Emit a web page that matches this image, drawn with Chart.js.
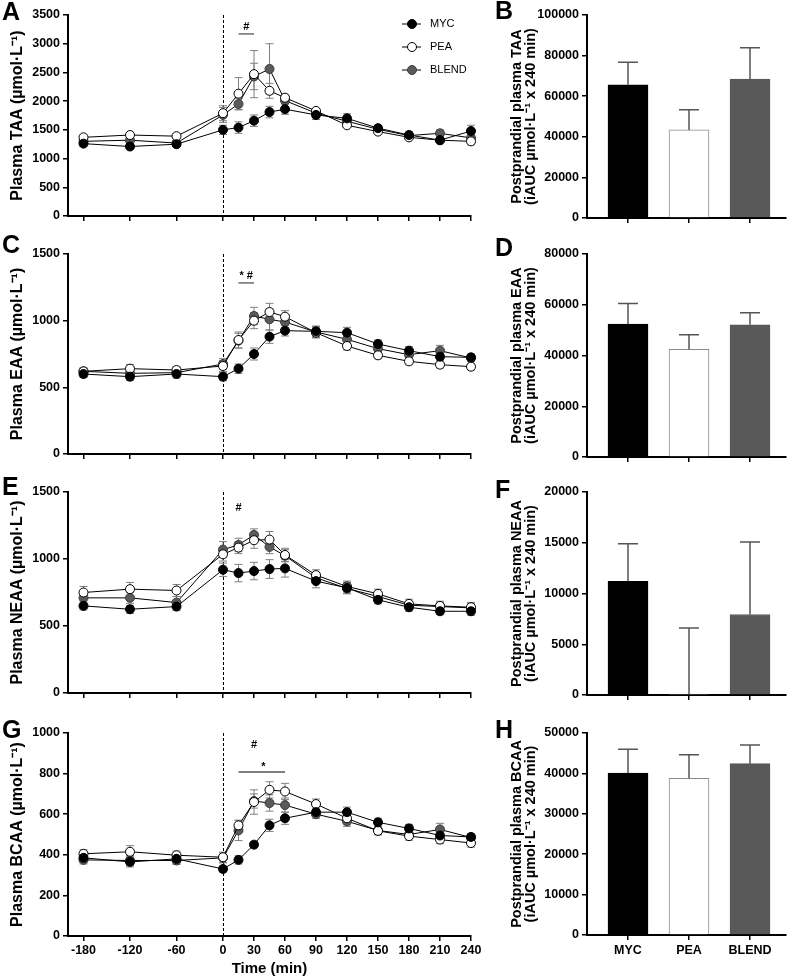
<!DOCTYPE html>
<html><head><meta charset="utf-8">
<script src="https://cdn.jsdelivr.net/npm/chart.js@4.4.1/dist/chart.umd.min.js"></script>
<style>
body{margin:0;background:#fff;width:792px;height:978px;position:relative;overflow:hidden;font-family:"Liberation Sans",Arial,sans-serif}
canvas{position:absolute}
.lab{position:absolute;font:bold 25px "Liberation Sans",Arial,sans-serif;line-height:25px;color:#000}
</style></head><body>
<canvas id="cA"></canvas><canvas id="cC"></canvas><canvas id="cE"></canvas><canvas id="cG"></canvas>
<canvas id="cB"></canvas><canvas id="cD"></canvas><canvas id="cF"></canvas><canvas id="cH"></canvas>
<div class="lab" style="left:2px;top:-1px">A</div>
<div class="lab" style="left:495px;top:-2px">B</div>
<div class="lab" style="left:2px;top:232px">C</div>
<div class="lab" style="left:495px;top:235px">D</div>
<div class="lab" style="left:2px;top:474px">E</div>
<div class="lab" style="left:495px;top:477px">F</div>
<div class="lab" style="left:2px;top:717px">G</div>
<div class="lab" style="left:495px;top:717px">H</div>
<script>
// ---------- data ----------
const timePoints = [-180,-120,-60,0,15,30,45,60,90,120,150,180,210,240];
const xTickValues = [-180,-120,-60,0,30,60,90,120,150,180,210,240];
const groups = ['MYC','PEA','BLEND'];

const taaMYC   = [1260,1210,1250,1500,1540,1660,1810,1860,1760,1700,1530,1410,1320,1480];
const taaPEA   = [1370,1410,1390,1790,2130,2470,2180,2060,1830,1580,1470,1370,1320,1300];
const taaBLEND = [1300,1320,1270,1760,1950,2430,2560,2010,1790,1650,1510,1400,1440,1360];
const taaMYCsem   = [40,40,40,80,100,100,100,90,80,80,50,50,40,100];
const taaPEAsem   = [40,40,40,130,280,410,130,60,40,40,40,40,40,60];
const taaBLENDsem = [40,40,40,130,100,230,440,60,80,60,40,60,60,60];

const eaaMYC   = [600,580,600,580,640,750,880,925,920,910,825,775,730,725];
const eaaPEA   = [620,640,630,660,855,1000,1065,1030,910,810,740,695,670,655];
const eaaBLEND = [620,605,610,675,850,1035,1010,990,915,860,790,745,775,720];
const eaaMYCsem   = [25,30,30,30,35,45,50,40,40,40,30,30,30,25];
const eaaPEAsem   = [25,30,25,40,60,60,65,45,40,30,25,25,25,25];
const eaaBLENDsem = [25,25,25,40,55,65,80,40,40,35,30,35,40,25];

const neaaMYC   = [650,625,645,920,895,910,925,930,835,785,695,640,610,610];
const neaaPEA   = [750,775,765,1035,1085,1140,1145,1030,880,795,740,665,650,640];
const neaaBLEND = [710,710,675,1070,1105,1180,1090,1025,860,780,720,655,645,635];
const neaaMYCsem   = [30,30,30,50,65,65,70,65,50,40,30,30,25,30];
const neaaPEAsem   = [45,50,45,50,45,60,60,50,40,40,35,35,35,35];
const neaaBLENDsem = [40,40,45,60,50,45,50,45,40,40,30,30,30,30];

const bcaaMYC   = [385,365,380,330,375,450,545,580,610,610,560,530,495,488];
const bcaaPEA   = [405,415,398,388,545,660,720,712,650,580,518,492,475,458];
const bcaaBLEND = [375,372,372,385,520,665,655,645,600,565,520,500,525,485];
const bcaaMYCsem   = [20,25,20,15,20,15,30,30,20,25,20,20,20,15];
const bcaaPEAsem   = [20,30,20,25,25,60,40,40,25,30,20,20,20,20];
const bcaaBLENDsem = [20,25,20,25,50,35,40,35,20,25,20,20,30,20];

const taaAUC = [65600,43400,68400];   const taaAUCsem = [11100,9900,15500];
const eaaAUC = [52400,42400,52100];   const eaaAUCsem = [8100,5800,4700];
const neaaAUC = [11200,100,7930];     const neaaAUCsem = [3700,6500,7140];
const bcaaAUC = [40100,38800,42400];  const bcaaAUCsem = [5900,5800,4600];

// ---------- helpers ----------
function toAxis(t){ return t < 0 ? t/40 : t/30; }
function fromAxis(u){ return u < 0 ? u*40 : u*30; }
const FAM = '"Liberation Sans", Arial, sans-serif';
const tickFont = {family:FAM, weight:'bold', size:12.5};
const titleFont = {family:FAM, weight:'bold', size:16};

function placeCanvas(id, box){
  const c = document.getElementById(id);
  c.width = box.w; c.height = box.h;
  c.style.left = box.left+'px'; c.style.top = box.top+'px';
  c.style.width = box.w+'px'; c.style.height = box.h+'px';
  return c;
}

const zeroLine = {id:'zeroLine', beforeDatasetsDraw(chart){
  const {ctx, chartArea, scales:{x}} = chart;
  const px = Math.round(x.getPixelForValue(0)) + 0.5;
  ctx.save(); ctx.strokeStyle='#000'; ctx.lineWidth=1; ctx.setLineDash([3,2]);
  ctx.beginPath(); ctx.moveTo(px, chartArea.top); ctx.lineTo(px, chartArea.bottom); ctx.stroke();
  ctx.restore();
}};

const lineErr = {id:'lineErr', beforeDatasetsDraw(chart){
  const {ctx, scales:{x,y}} = chart;
  ctx.save(); ctx.strokeStyle='#808080'; ctx.lineWidth=1;
  chart.data.datasets.forEach(ds=>{
    ds.data.forEach((p,i)=>{
      const s = ds.sem[i]; const px = x.getPixelForValue(p.x);
      const y1 = y.getPixelForValue(p.y - s), y2 = y.getPixelForValue(p.y + s);
      ctx.beginPath();
      ctx.moveTo(px, y1); ctx.lineTo(px, y2);
      ctx.moveTo(px-4, y1); ctx.lineTo(px+4, y1);
      ctx.moveTo(px-4, y2); ctx.lineTo(px+4, y2);
      ctx.stroke();
    });
  });
  ctx.restore();
}};

const barErr = {id:'barErr', afterDatasetsDraw(chart){
  const {ctx, scales:{x,y}} = chart;
  ctx.save(); ctx.strokeStyle='#555'; ctx.lineWidth=1.5;
  chart.data.datasets.forEach(ds=>{
    ds.data.forEach((p,i)=>{
      const px = x.getPixelForValue(p.x);
      const y1 = y.getPixelForValue(p.y), y2 = y.getPixelForValue(p.y + ds.sem[i]);
      ctx.beginPath(); ctx.moveTo(px, y1); ctx.lineTo(px, y2);
      ctx.moveTo(px-10, y2); ctx.lineTo(px+10, y2); ctx.stroke();
    });
  });
  ctx.restore();
}};

function sigPlugin(marks){ return {id:'sig', afterDatasetsDraw(chart){
  const {ctx, scales:{x,y}} = chart;
  ctx.save();
  marks.forEach(m=>{
    if (m.x1 !== undefined){
      ctx.strokeStyle='#555'; ctx.lineWidth=1.3; ctx.beginPath();
      ctx.moveTo(x.getPixelForValue(toAxis(m.x1)), y.getPixelForValue(m.y));
      ctx.lineTo(x.getPixelForValue(toAxis(m.x2)), y.getPixelForValue(m.y)); ctx.stroke();
    } else {
      ctx.fillStyle='#000'; ctx.font='bold 11px '+FAM; ctx.textAlign='center'; ctx.textBaseline='middle';
      ctx.fillText(m.text, x.getPixelForValue(toAxis(m.x)), y.getPixelForValue(m.y));
    }
  });
  ctx.restore();
}};}

const legendPlugin = {id:'legendIn', afterDraw(chart){
  const {ctx, chartArea} = chart;
  ctx.save();
  chart.data.datasets.forEach((ds,i)=>{
    const yy = chartArea.top + 9 + i*23;
    const x0 = chartArea.right - 69;
    ctx.strokeStyle='#000'; ctx.lineWidth=1;
    ctx.beginPath(); ctx.moveTo(x0, yy); ctx.lineTo(x0+19, yy); ctx.stroke();
    ctx.beginPath(); ctx.arc(x0+10, yy, 4.5, 0, Math.PI*2);
    ctx.fillStyle = ds.pointBackgroundColor; ctx.fill();
    ctx.strokeStyle = ds.pointBorderColor; ctx.stroke();
    ctx.fillStyle='#000'; ctx.font='11px '+FAM; ctx.textAlign='left'; ctx.textBaseline='middle';
    ctx.fillText(ds.label, x0+28, yy);
  });
  ctx.restore();
}};

function axisCommon(){
  return {
    offset:false,
    grid:{drawOnChartArea:false, drawTicks:true, tickLength:5, color:'#000', lineWidth:1.5, offset:false},
    border:{color:'#000', width:2}
  };
}

function makeLine(id, box, area, series, yMax, yStep, yTitle, showX, marks, withLegend){
  const c = placeCanvas(id, box);
  const mk = (label, vals, sem, fill, stroke) => ({
    label, sem, data: vals.map((v,i)=>({x:toAxis(timePoints[i]), y:v})),
    borderColor:'#000', borderWidth:1, pointBackgroundColor:fill, pointBorderColor:stroke,
    pointRadius:4.5, pointBorderWidth:1, tension:0, clip:false
  });
  const datasets = [
    mk('MYC', series[0], series[3], '#000', '#000'),
    mk('PEA', series[1], series[4], '#fff', '#000'),
    mk('BLEND', series[2], series[5], '#5a5a5a', '#3c3c3c')
  ];
  const plugins = [zeroLine, lineErr, sigPlugin(marks)];
  if (withLegend) plugins.push(legendPlugin);
  const xa = Object.assign(axisCommon(), {
    type:'linear', min:-5, max:8,
    afterBuildTicks: s => { s.ticks = xTickValues.map(t=>({value:toAxis(t)})); },
    afterFit: s => { s.height = box.top + box.h - area.bottom; s.paddingLeft=0; s.paddingRight=0; },
    ticks:{display:showX, font:tickFont, color:'#000', padding:2, maxRotation:0, autoSkip:false,
           callback: v => String(Math.round(fromAxis(v)))},
    title: showX ? {display:true, text:'Time (min)', font:{family:FAM, weight:'bold', size:15}, color:'#000', padding:{top:1,bottom:0}} : {display:false}
  });
  const ya = Object.assign(axisCommon(), {
    min:0, max:yMax,
    afterFit: s => { s.width = 68; s.paddingTop=0; s.paddingBottom=0; },
    ticks:{stepSize:yStep, font:tickFont, color:'#000', padding:3, callback: v => String(v)},
    title:{display:true, text:yTitle, font:titleFont, color:'#000', padding:{top:7.5,bottom:0}}
  });
  return new Chart(c, {
    type:'line',
    data:{datasets},
    options:{
      responsive:false, animation:false, devicePixelRatio:1,
      layout:{padding:{top:area.top-box.top, right:box.w-471, left:0, bottom:0}},
      plugins:{legend:{display:false}, tooltip:{enabled:false}},
      scales:{x:xa, y:ya}
    },
    plugins
  });
}

function makeBar(id, box, area, vals, sem, yMax, yStep, yTitle, showX){
  const c = placeCanvas(id, box);
  const xa = Object.assign(axisCommon(), {
    type:'linear', min:-0.672, max:2.59,
    afterBuildTicks: s => { s.ticks = groups.map((g,i)=>({value:i})); },
    afterFit: s => { s.height = box.top + box.h - area.bottom; s.paddingLeft=0; s.paddingRight=0; },
    ticks:{display:showX, font:tickFont, color:'#000', padding:3, maxRotation:0, autoSkip:false,
           callback: v => groups[v]}
  });
  const ya = Object.assign(axisCommon(), {
    min:0, max:yMax,
    afterFit: s => { s.width = 587 - box.left; s.paddingTop=0; s.paddingBottom=0; },
    ticks:{stepSize:yStep, font:tickFont, color:'#000', padding:3, callback: v => String(v)},
    title:{display:true, text:yTitle, font:{family:FAM, weight:'bold', size:14.5, lineHeight:1.0}, color:'#000', padding:{top:37.5,bottom:0}}
  });
  return new Chart(c, {
    type:'bar',
    data:{datasets:[{
      data: vals.map((v,i)=>({x:i, y:v})), sem,
      backgroundColor:['#000','#fff','#595959'], borderColor:['#000','#8a8a8a','#595959'],
      borderWidth:1, barThickness:40
    }]},
    options:{
      responsive:false, animation:false, devicePixelRatio:1,
      layout:{padding:{top:area.top-box.top, right:792-786, left:0, bottom:0}},
      plugins:{legend:{display:false}, tooltip:{enabled:false}},
      scales:{x:xa, y:ya}
    },
    plugins:[barErr]
  });
}

const UM = ' (µmol·L⁻¹)';
const AUCT = '(iAUC µmol·L⁻¹ x 240 min)';

makeLine('cA', {left:0, top:0, w:500, h:232}, {top:15, bottom:216},
  [taaMYC,taaPEA,taaBLEND,taaMYCsem,taaPEAsem,taaBLENDsem], 3500, 500, 'Plasma TAA'+UM, false,
  [{x1:15,x2:30,y:3170},{text:'#',x:22.5,y:3285}], true);
makeLine('cC', {left:0, top:232, w:500, h:238}, {top:254, bottom:454},
  [eaaMYC,eaaPEA,eaaBLEND,eaaMYCsem,eaaPEAsem,eaaBLENDsem], 1500, 500, 'Plasma EAA'+UM, false,
  [{x1:15,x2:30,y:1283},{text:'* #',x:22.5,y:1335}], false);
makeLine('cE', {left:0, top:470, w:500, h:240}, {top:492, bottom:693},
  [neaaMYC,neaaPEA,neaaBLEND,neaaMYCsem,neaaPEAsem,neaaBLENDsem], 1500, 500, 'Plasma NEAA'+UM, false,
  [{text:'#',x:15,y:1380}], false);
makeLine('cG', {left:0, top:710, w:500, h:268}, {top:733, bottom:936},
  [bcaaMYC,bcaaPEA,bcaaBLEND,bcaaMYCsem,bcaaPEAsem,bcaaBLENDsem], 1000, 200, 'Plasma BCAA'+UM, true,
  [{text:'#',x:30,y:941},{text:'*',x:39,y:833},{x1:15,x2:60,y:808}], false);

makeBar('cB', {left:472, top:0, w:320, h:232}, {top:15, bottom:218}, taaAUC, taaAUCsem, 100000, 20000,
  ['Postprandial plasma TAA', AUCT], false);
makeBar('cD', {left:472, top:232, w:320, h:238}, {top:254, bottom:457}, eaaAUC, eaaAUCsem, 80000, 20000,
  ['Postprandial plasma EAA', AUCT], false);
makeBar('cF', {left:472, top:470, w:320, h:240}, {top:492, bottom:695}, neaaAUC, neaaAUCsem, 20000, 5000,
  ['Postprandial plasma NEAA', AUCT], false);
makeBar('cH', {left:472, top:710, w:320, h:268}, {top:733, bottom:935}, bcaaAUC, bcaaAUCsem, 50000, 10000,
  ['Postprandial plasma BCAA', AUCT], true);
</script>
</body></html>
